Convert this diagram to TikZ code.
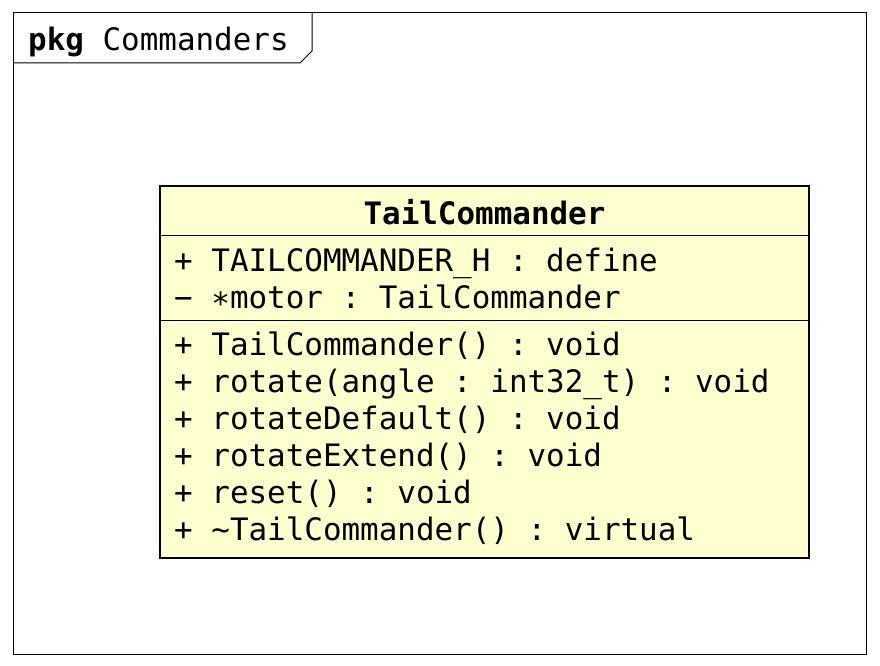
\documentclass[tikz,border=0pt]{standalone}
\usepackage{fontspec}
\setmonofont{DejaVu Sans Mono}
\definecolor{classfill}{HTML}{FEFECE}
\newcommand{\umlfont}{\fontsize{30.9}{37}\selectfont\ttfamily}
\tikzset{
  member/.style={anchor=base west, inner sep=0pt, font=\umlfont},
  title/.style={anchor=base, inner sep=0pt, font=\umlfont\bfseries},
}
\begin{document}
\begin{tikzpicture}[x=1pt,y=-1pt]
    \useasboundingbox (0,0) rectangle (880,666);
    % package frame
    \coordinate (pkgNW) at (13,13);
    \coordinate (pkgSE) at (866,654);
    \draw[line width=1pt] (pkgNW) rectangle (pkgSE);
    \draw[line width=1pt] (13,63) -- (300,63) -- (312,51) -- (312,13);
    \node[member] (pkgname) at (28,51) {\textbf{pkg} Commanders};

    % class box
    \coordinate (classNW) at (160,186);
    \coordinate (classSE) at (809,558);
    \draw[line width=2pt,fill=classfill] (classNW) rectangle (classSE);
    \draw[line width=1pt] (160,235) -- (809,235);
    \draw[line width=1pt] (160,320) -- (809,320);
    \node[title] (cname) at (484.5,224) {TailCommander};

    % attributes
    \node[member] (a1) at (174,271) {+ TAILCOMMANDER\_H : define};
    \node[member] (a2) at (174,308) {− ∗motor : TailCommander};

    % methods
    \node[member] (m1) at (174,355) {+ TailCommander() : void};
    \node[member] (m2) at (174,392) {+ rotate(angle : int32\_t) : void};
    \node[member] (m3) at (174,429) {+ rotateDefault() : void};
    \node[member] (m4) at (174,466) {+ rotateExtend() : void};
    \node[member] (m5) at (174,503) {+ reset() : void};
    \node[member] (m6) at (174,540) {+ \textasciitilde TailCommander() : virtual};

\end{tikzpicture}
\end{document}
